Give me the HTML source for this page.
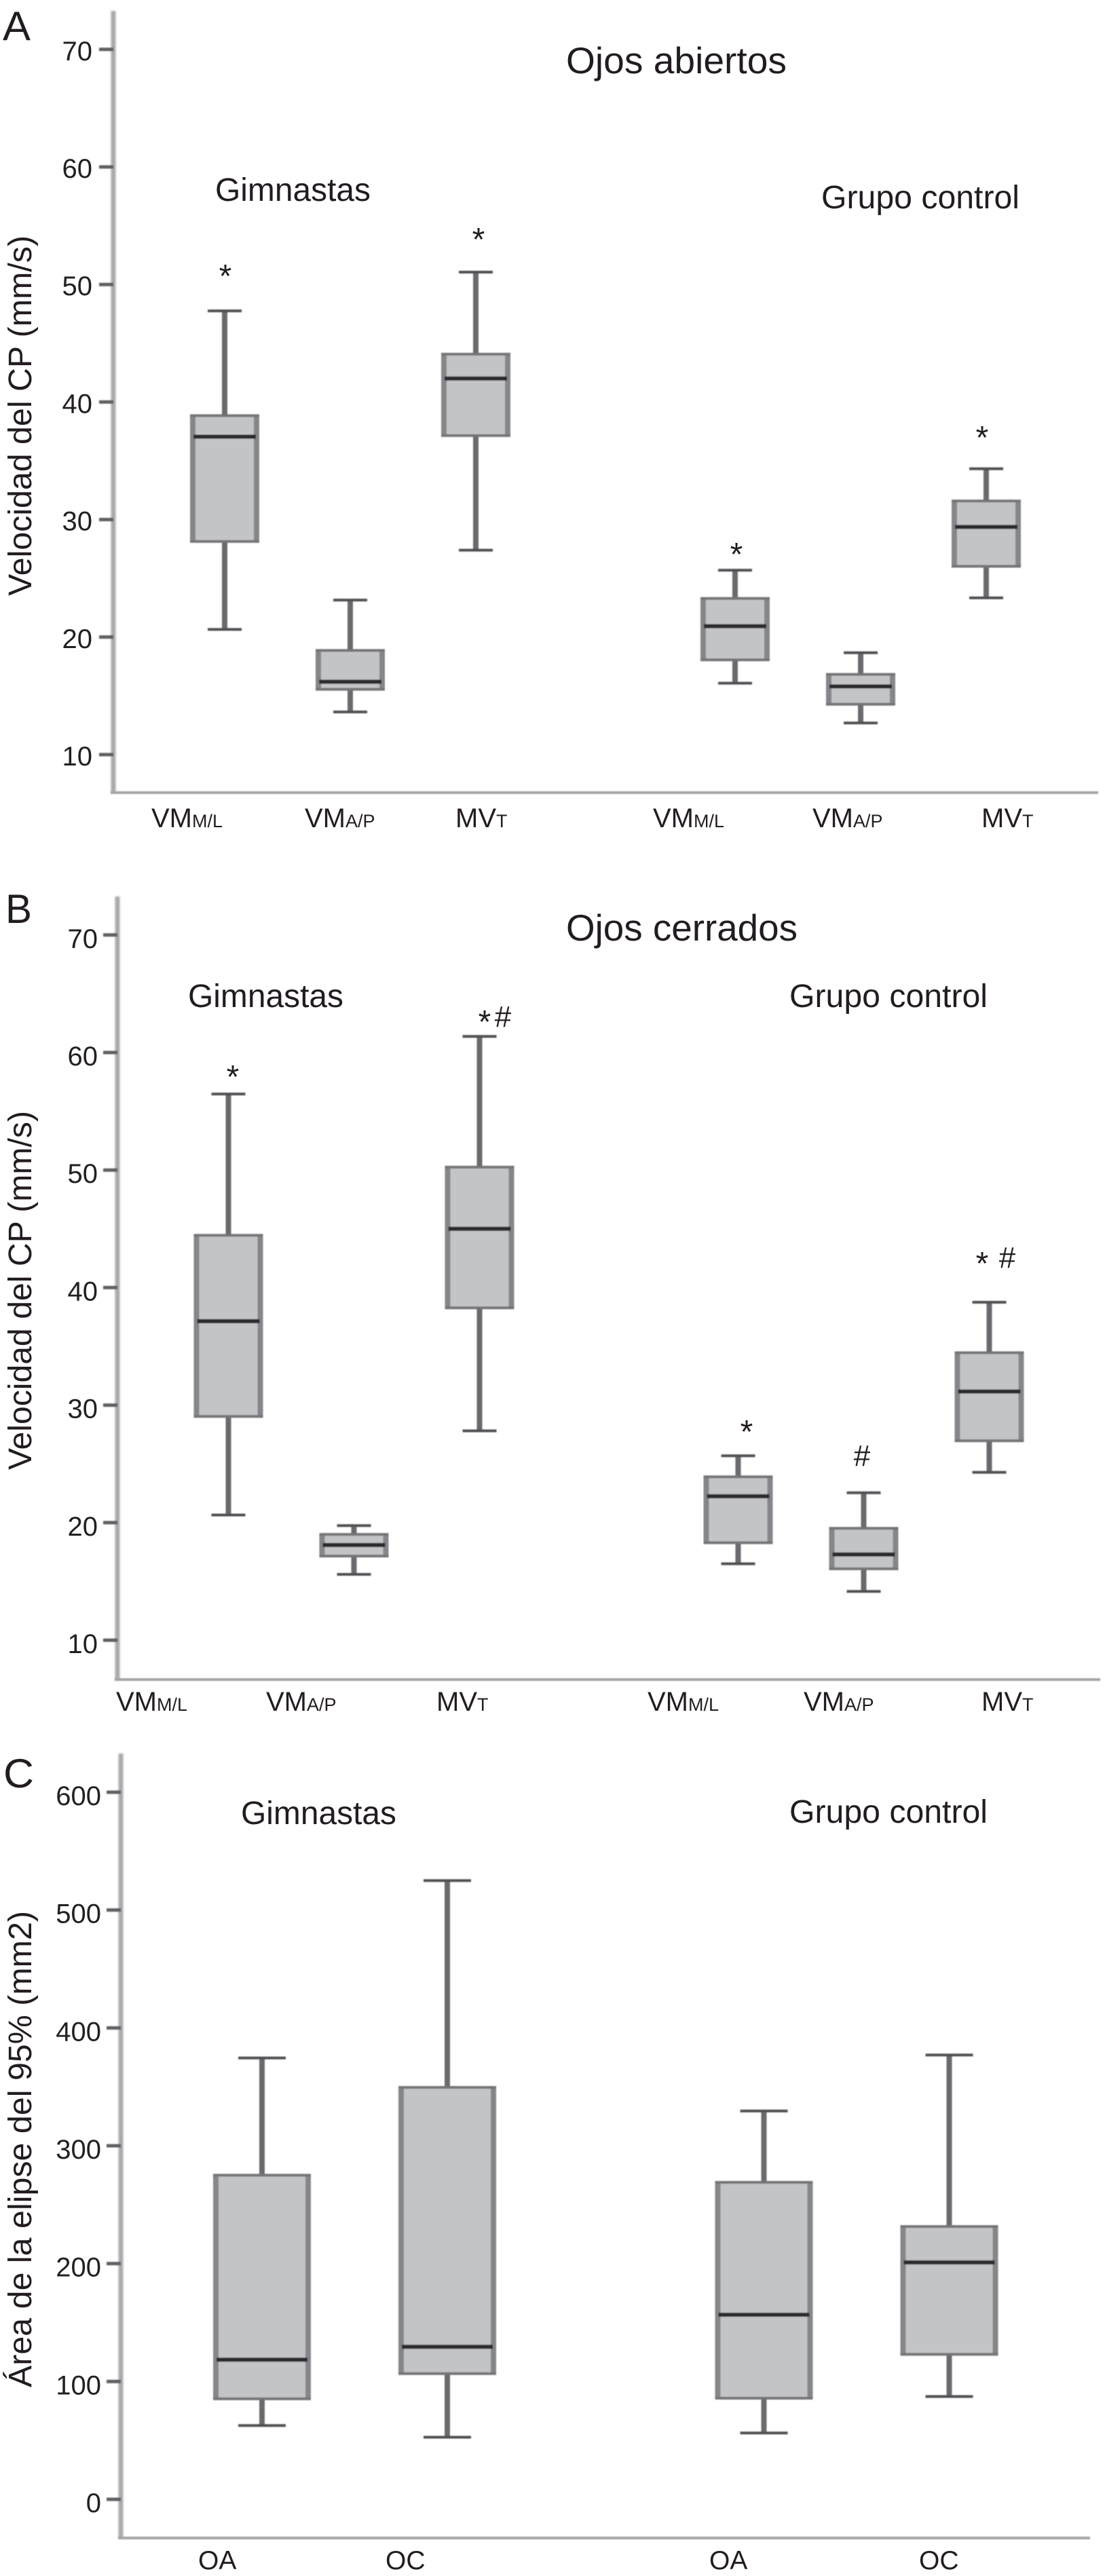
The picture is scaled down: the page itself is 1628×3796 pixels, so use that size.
<!DOCTYPE html>
<html lang="es">
<head>
<meta charset="utf-8">
<title>Velocidad del CP y área de la elipse</title>
<style>
html,body{margin:0;padding:0;background:#fff;}
svg{display:block;}
text{font-family:"Liberation Sans",sans-serif;fill:#231f20;}
</style>
</head>
<body>
<svg id="figure" xmlns="http://www.w3.org/2000/svg" width="1628" height="3796" viewBox="0 0 1628 3796">
  <defs>
    <filter id="soft" filterUnits="userSpaceOnUse" x="0" y="0" width="1628" height="3796"><feGaussianBlur stdDeviation="0.9"/></filter>
    <filter id="softer" filterUnits="userSpaceOnUse" x="0" y="0" width="1628" height="3796"><feGaussianBlur stdDeviation="1.4"/></filter>
    <filter id="softtext" filterUnits="userSpaceOnUse" x="0" y="0" width="1628" height="3796"><feGaussianBlur stdDeviation="0.35"/></filter>
  </defs>
  <g id="marks"></g>
  <g filter="url(#softtext)">
    <!-- Panel A -->
    <text x="4" y="59" font-size="60" textLength="41" lengthAdjust="spacingAndGlyphs">A</text>
    <text x="834" y="108" font-size="55" textLength="325" lengthAdjust="spacingAndGlyphs">Ojos abiertos</text>
    <text x="317" y="296" font-size="48" textLength="229" lengthAdjust="spacingAndGlyphs">Gimnastas</text>
    <text x="1210" y="307" font-size="48" textLength="292" lengthAdjust="spacingAndGlyphs">Grupo control</text>
    <text transform="translate(46,878) rotate(-90)" font-size="48" textLength="531" lengthAdjust="spacingAndGlyphs">Velocidad del CP (mm/s)</text>
    <text x="223" y="1219" font-size="40">VM<tspan font-size="27">M/L</tspan></text>
    <text x="449" y="1219" font-size="40">VM<tspan font-size="27">A/P</tspan></text>
    <text x="671" y="1219" font-size="40">MV<tspan font-size="27">T</tspan></text>
    <text x="962" y="1219" font-size="40">VM<tspan font-size="27">M/L</tspan></text>
    <text x="1197" y="1219" font-size="40">VM<tspan font-size="27">A/P</tspan></text>
    <text x="1446" y="1219" font-size="40">MV<tspan font-size="27">T</tspan></text>
    <text x="332" y="423" font-size="48" text-anchor="middle">*</text>
    <text x="705" y="369" font-size="48" text-anchor="middle">*</text>
    <text x="1085" y="833" font-size="48" text-anchor="middle">*</text>
    <text x="1447" y="661" font-size="48" text-anchor="middle">*</text>

    <!-- Panel B -->
    <text x="8" y="1360" font-size="60" textLength="39" lengthAdjust="spacingAndGlyphs">B</text>
    <text x="834" y="1386" font-size="55" textLength="341" lengthAdjust="spacingAndGlyphs">Ojos cerrados</text>
    <text x="277" y="1484" font-size="48" textLength="229" lengthAdjust="spacingAndGlyphs">Gimnastas</text>
    <text x="1163" y="1484" font-size="48" textLength="292" lengthAdjust="spacingAndGlyphs">Grupo control</text>
    <text transform="translate(46,2166) rotate(-90)" font-size="48" textLength="529" lengthAdjust="spacingAndGlyphs">Velocidad del CP (mm/s)</text>
    <text x="171" y="2521" font-size="40">VM<tspan font-size="27">M/L</tspan></text>
    <text x="392" y="2521" font-size="40">VM<tspan font-size="27">A/P</tspan></text>
    <text x="643" y="2521" font-size="40">MV<tspan font-size="27">T</tspan></text>
    <text x="954" y="2521" font-size="40">VM<tspan font-size="27">M/L</tspan></text>
    <text x="1184" y="2521" font-size="40">VM<tspan font-size="27">A/P</tspan></text>
    <text x="1446" y="2521" font-size="40">MV<tspan font-size="27">T</tspan></text>
    <text x="343" y="1603" font-size="48" text-anchor="middle">*</text>
    <text x="714" y="1522" font-size="48" text-anchor="middle">*</text>
    <text x="741" y="1513" font-size="44" text-anchor="middle">#</text>
    <text x="1100" y="2126" font-size="48" text-anchor="middle">*</text>
    <text x="1270" y="2160" font-size="44" text-anchor="middle">#</text>
    <text x="1447" y="1878" font-size="48" text-anchor="middle">*</text>
    <text x="1484" y="1868" font-size="44" text-anchor="middle">#</text>

    <!-- Panel C -->
    <text x="5" y="2634" font-size="60" textLength="45" lengthAdjust="spacingAndGlyphs">C</text>
    <text x="355" y="2688" font-size="48" textLength="229" lengthAdjust="spacingAndGlyphs">Gimnastas</text>
    <text x="1163" y="2686" font-size="48" textLength="292" lengthAdjust="spacingAndGlyphs">Grupo control</text>
    <text transform="translate(46,3518) rotate(-90)" font-size="48" textLength="702" lengthAdjust="spacingAndGlyphs">Área de la elipse del 95% (mm2)</text>
    <text x="292" y="3786" font-size="39">OA</text>
    <text x="568" y="3786" font-size="39">OC</text>
    <text x="1045" y="3786" font-size="39">OA</text>
    <text x="1354" y="3786" font-size="39">OC</text>
  </g>
</svg>
<script>
// ---- Panel A data (Ojos abiertos, mm/s) ----
const panelACategories = ["Gimnastas VM M/L", "Gimnastas VM A/P", "Gimnastas MV T", "Control VM M/L", "Control VM A/P", "Control MV T"];
const panelAWhiskerHigh = [47.75, 23.15, 51.05, 25.69, 18.67, 34.32];
const panelAQ3 = [38.84, 18.86, 44.07, 23.29, 16.83, 31.58];
const panelAMedian = [37.05, 16.2, 42.0, 20.93, 15.8, 29.37];
const panelAQ1 = [28.14, 15.56, 37.14, 18.06, 14.29, 26.02];
const panelAWhiskerLow = [20.65, 13.63, 27.39, 16.08, 12.69, 23.34];
const panelATicks = [10, 20, 30, 40, 50, 60, 70];

// ---- Panel B data (Ojos cerrados, mm/s) ----
const panelBCategories = ["Gimnastas VM M/L", "Gimnastas VM A/P", "Gimnastas MV T", "Control VM M/L", "Control VM A/P", "Control MV T"];
const panelBWhiskerHigh = [56.47, 19.75, 61.37, 25.69, 22.54, 38.75];
const panelBQ3 = [44.45, 19.0, 50.25, 23.9, 19.52, 34.46];
const panelBMedian = [37.14, 18.1, 45.0, 22.25, 17.3, 31.16];
const panelBQ1 = [29.04, 17.16, 38.28, 18.29, 16.08, 26.97];
const panelBWhiskerLow = [20.65, 15.6, 27.81, 16.5, 14.15, 24.28];
const panelBTicks = [10, 20, 30, 40, 50, 60, 70];

// ---- Panel C data (Área de la elipse, mm2) ----
const panelCCategories = ["Gimnastas OA", "Gimnastas OC", "Control OA", "Control OC"];
const panelCWhiskerHigh = [374.5, 525, 329.5, 377];
const panelCQ3 = [275, 349.5, 269, 231.5];
const panelCMedian = [118.5, 129.4, 156.6, 201];
const panelCQ1 = [85.3, 106.7, 85.8, 123];
const panelCWhiskerLow = [62.6, 52.7, 56.3, 87.2];
const panelCTicks = [0, 100, 200, 300, 400, 500, 600];

const SVGNS = "http://www.w3.org/2000/svg";
const marksRoot = document.getElementById("marks");

function shape(parent, tag, props) {
  const node = document.createElementNS(SVGNS, tag);
  for (const key in props) node.setAttribute(key, props[key]);
  parent.appendChild(node);
  return node;
}

function makeY(refValue, refPixel, pixelsPerUnit) {
  return function (v) { return refPixel - (v - refValue) * pixelsPerUnit; };
}

function makeX(start, step, groupSize, gap) {
  return function (i) { return start + step * i + (i >= groupSize ? gap : 0); };
}

function drawPanel(id, frame, yScale, xScale, series, ticks, categories) {
  const group = shape(marksRoot, "g", {});
  
  

  const yAxis = shape(group, "line", { x1: frame.axisX, x2: frame.axisX, y1: frame.top, y2: frame.bottom, stroke: "#a8aaad", "stroke-width": 7, filter: "url(#softer)" });
  
  

  const xAxis = shape(group, "line", { x1: frame.axisX - 4, x2: frame.right, y1: frame.bottom, y2: frame.bottom, stroke: "#a2a4a7", "stroke-width": 4, filter: "url(#soft)" });
  
  

  ticks.forEach(function (t) {
    const py = yScale(t);
    const tickMark = shape(group, "line", { x1: frame.axisX - 21, x2: frame.axisX, y1: py, y2: py, stroke: "#5f6063", "stroke-width": 5, filter: "url(#soft)" });
    
    

    const tickText = shape(group, "text", { x: frame.labelRight, y: py + frame.labelDrop, "font-size": 40, "text-anchor": "end" });
    tickText.textContent = String(t);
    
    
  });

  categories.forEach(function (cat, i) {
    const cx = xScale(i);
    const hi = yScale(series.high[i]);
    const q3 = yScale(series.q3[i]);
    const med = yScale(series.median[i]);
    const q1 = yScale(series.q1[i]);
    const lo = yScale(series.low[i]);
    const hw = frame.boxHalf;
    const cw = frame.capHalf;

    const box = shape(group, "g", { filter: "url(#soft)" });
    
    

    const whisker = shape(box, "line", { x1: cx, x2: cx, y1: hi, y2: lo, stroke: "#696a6d", "stroke-width": 8 });
    
    

    const capTop = shape(box, "line", { x1: cx - cw, x2: cx + cw, y1: hi, y2: hi, stroke: "#4f5053", "stroke-width": 4 });
    
    

    const capLow = shape(box, "line", { x1: cx - cw, x2: cx + cw, y1: lo, y2: lo, stroke: "#4f5053", "stroke-width": 4 });
    
    

    const iqr = shape(box, "rect", { x: cx - hw, y: q3, width: hw * 2, height: q1 - q3, fill: "#c3c4c6" });
    
    

    const sideL = shape(box, "line", { x1: cx - hw + 2, x2: cx - hw + 2, y1: q3, y2: q1, stroke: "#85868a", "stroke-width": 8 });
    
    

    const sideR = shape(box, "line", { x1: cx + hw - 2, x2: cx + hw - 2, y1: q3, y2: q1, stroke: "#85868a", "stroke-width": 8 });
    
    

    const edgeTop = shape(box, "line", { x1: cx - hw - 2, x2: cx + hw + 2, y1: q3, y2: q3, stroke: "#747578", "stroke-width": 4 });
    
    

    const edgeBottom = shape(box, "line", { x1: cx - hw - 2, x2: cx + hw + 2, y1: q1, y2: q1, stroke: "#747578", "stroke-width": 4 });
    
    

    const medianLine = shape(box, "line", { x1: cx - hw + 3, x2: cx + hw - 3, y1: med, y2: med, stroke: "#2a2b2d", "stroke-width": 6 });
    
    

    const tip = shape(box, "title", {});
    tip.textContent = cat;
  });
}

drawPanel("a",
  { axisX: 167, top: 16, bottom: 1168, right: 1618, labelRight: 136, labelDrop: 16, boxHalf: 49, capHalf: 25 },
  makeY(10, 1112, 17.32),
  makeX(331, 185, 3, 197),
  { high: panelAWhiskerHigh, q3: panelAQ3, median: panelAMedian, q1: panelAQ1, low: panelAWhiskerLow },
  panelATicks, panelACategories);

drawPanel("b",
  { axisX: 173, top: 1321, bottom: 2475, right: 1621, labelRight: 144, labelDrop: 19, boxHalf: 49, capHalf: 25 },
  makeY(10, 2417, 17.32),
  makeX(336.5, 185, 3, 196),
  { high: panelBWhiskerHigh, q3: panelBQ3, median: panelBMedian, q1: panelBQ1, low: panelBWhiskerLow },
  panelBTicks, panelBCategories);

drawPanel("c",
  { axisX: 178, top: 2584, bottom: 3740, right: 1606, labelRight: 149, labelDrop: 19, boxHalf: 70, capHalf: 35 },
  makeY(0, 3683, 1.7367),
  makeX(386, 273, 2, 193.5),
  { high: panelCWhiskerHigh, q3: panelCQ3, median: panelCMedian, q1: panelCQ1, low: panelCWhiskerLow },
  panelCTicks, panelCCategories);
</script>
</body>
</html>
